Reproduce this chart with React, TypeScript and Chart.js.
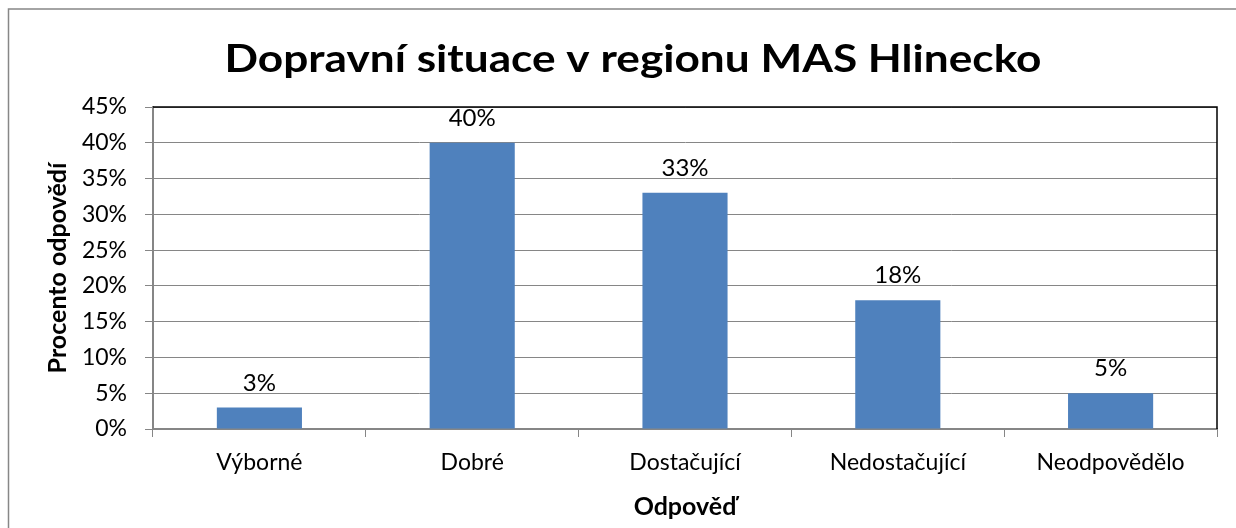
import React, { useEffect, useRef } from "react";
import { Chart, registerables } from "chart.js";

Chart.register(...registerables);

const chartTitle = "Dopravní situace v regionu MAS Hlinecko";
const xAxisTitle = "Odpověď";
const yAxisTitle = "Procento odpovědí";
const categories = ["Výborné", "Dobré", "Dostačující", "Nedostačující", "Neodpovědělo"];
const values = [3, 40, 33, 18, 5];
const yMin = 0;
const yMax = 45;
const yStep = 5;

const FONT = "Lato, 'Open Sans', sans-serif";
const GRID = "#868686";
const BAR = "#4F81BD";

const decorPlugin = {
  id: "decor",
  afterDraw(chart: any) {
    const ctx = chart.ctx as CanvasRenderingContext2D;
    const area = chart.chartArea;
    ctx.save();
    ctx.strokeStyle = "#878787";
    ctx.lineWidth = 1.5;
    ctx.beginPath();
    ctx.moveTo(8.5, chart.height + 5);
    ctx.lineTo(8.5, 9);
    ctx.lineTo(chart.width + 5, 9);
    ctx.stroke();
    ctx.strokeStyle = "#000000";
    ctx.lineWidth = 1.5;
    ctx.beginPath();
    ctx.moveTo(area.left, area.top);
    ctx.lineTo(area.right, area.top);
    ctx.lineTo(area.right, area.bottom);
    ctx.stroke();
    // title, stretched horizontally to the reference width
    ctx.fillStyle = "#000";
    ctx.font = `bold 38px ${FONT}`;
    ctx.textAlign = "center";
    ctx.textBaseline = "alphabetic";
    const w = ctx.measureText(chartTitle).width;
    const sx = 817 / w;
    ctx.save();
    ctx.translate(633, 72);
    ctx.scale(sx, 1);
    ctx.fillText(chartTitle, 0, 0);
    ctx.restore();
    ctx.font = `24px ${FONT}`;
    const meta = chart.getDatasetMeta(0);
    meta.data.forEach((bar: any, i: number) => {
      ctx.fillText(`${values[i]}%`, bar.x, bar.y - 17);
    });
    ctx.restore();
  },
};

export default function App() {
  const ref = useRef<HTMLCanvasElement | null>(null);
  useEffect(() => {
    if (!ref.current) return;
    const chart = new Chart(ref.current, {
      type: "bar",
      data: {
        labels: categories,
        datasets: [
          {
            data: values,
            backgroundColor: BAR,
            borderWidth: 0,
            categoryPercentage: 1,
            barPercentage: 0.4,
          },
        ],
      },
      options: {
        responsive: false,
        animation: false,
        events: [],
        layout: { padding: { top: 107, right: 19, left: 0, bottom: 0 } },
        plugins: {
          legend: { display: false },
          tooltip: { enabled: false },
          title: { display: false },
        },
        scales: {
          x: {
            offset: true,
            grid: {
              offset: true,
              drawOnChartArea: false,
              drawTicks: true,
              tickLength: 8,
              color: GRID,
              lineWidth: 1,
            },
            border: { color: GRID, width: 2 },
            ticks: { color: "#000", font: { family: FONT, size: 23 }, padding: 12 },
            title: {
              display: true,
              text: xAxisTitle,
              color: "#000",
              font: { family: FONT, size: 25, weight: "bold" },
              padding: { top: 0, bottom: 6 },
            },
            afterFit: (s: any) => {
              s.height = 99;
            },
          },
          y: {
            min: yMin,
            max: yMax,
            grid: { color: GRID, lineWidth: 1, tickLength: 8, drawTicks: true },
            border: { color: GRID, width: 2 },
            ticks: {
              stepSize: yStep,
              color: "#000",
              font: { family: FONT, size: 23 },
              padding: 18,
              callback: (v: any) => `${v}%`,
            },
            title: {
              display: true,
              text: yAxisTitle,
              color: "#000",
              font: { family: FONT, size: 25, weight: "bold" },
              padding: { top: 43, bottom: 0 },
            },
            afterFit: (s: any) => {
              s.width = 153;
            },
          },
        },
      },
      plugins: [decorPlugin],
    });
    return () => chart.destroy();
  }, []);
  return (
    <div style={{ position: "absolute", left: 0, top: 0, width: 1236, height: 528, background: "#fff" }}>
      <canvas ref={ref} width={1236} height={528} style={{ display: "block" }} />
    </div>
  );
}
